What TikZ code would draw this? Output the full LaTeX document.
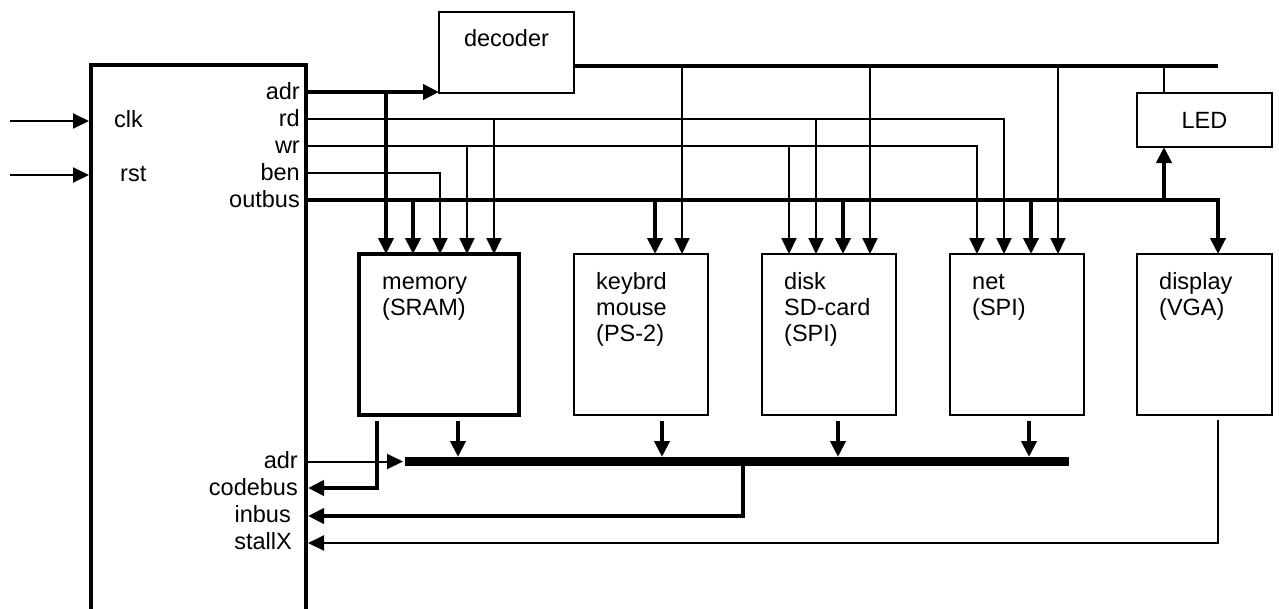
\documentclass[tikz,border=0pt]{standalone}
\usepackage{fontspec}
\setmainfont{Liberation Sans}
\usetikzlibrary{arrows.meta,calc}
\begin{document}
\begin{tikzpicture}[x=1pt,y=-1pt,
  every node/.style={font=\fontsize{23.5}{26}\selectfont,inner sep=0pt},
  thinw/.style={line width=2pt},
  thickw/.style={line width=4pt},
  barw/.style={line width=8.5pt},
  arr/.style={-{Triangle[length=16pt,width=15pt]}},
  unit/.style={draw,line width=2pt,outer sep=0pt,anchor=north west,minimum height=161pt},
  port/.style={anchor=base east},
  inside/.style={anchor=north west,align=left},
]
\useasboundingbox (0,0) rectangle (1279,608);

% processor block (runs off the bottom edge)
\node[draw,line width=4pt,outer sep=2pt,anchor=north west,minimum width=215pt,minimum height=620pt] (cpu) at (89,63) {};

% peripheral units
\node[draw,line width=2pt,outer sep=0pt,anchor=north west,minimum width=135pt,minimum height=81pt] (dec) at (439,12) {};
\node[anchor=base] (dectxt) at (506.5,46) {decoder};
\node[draw,line width=2pt,outer sep=0pt,anchor=north west,minimum width=135pt,minimum height=54pt] (led) at (1137,93) {LED};
\node[unit,line width=4pt,minimum width=160pt] (mem) at (359,254) {};
\node[unit,minimum width=134pt] (kbd) at (574,254) {};
\node[unit,minimum width=134pt] (disk) at (762,254) {};
\node[unit,minimum width=134pt] (net) at (950,254) {};
\node[unit,minimum width=135pt] (disp) at (1137,254) {};

\node[inside] (memtxt) at (382,271) {\rule{0pt}{18pt}memory\\(SRAM)};
\node[inside] (kbdtxt) at (596,271) {\rule{0pt}{18pt}keybrd\\mouse\\(PS-2)};
\node[inside] (disktxt) at (784,271) {\rule{0pt}{18pt}disk\\SD-card\\(SPI)};
\node[inside] (nettxt) at (972,271) {\rule{0pt}{18pt}net\\(SPI)};
\node[inside] (disptxt) at (1159,271) {\rule{0pt}{18pt}display\\(VGA)};

% tap points along the top edge of each unit, 27pt apart
\foreach \b in {mem,kbd,disk,net,disp,led}{
  \foreach \k in {1,...,5}{
    \coordinate (\b-t\k) at ($(\b.north west)+(27*\k,0)$);
  }
}

% port names of the processor
\node[anchor=base west] (lclk) at (114,127) {clk};
\node[anchor=base west] (lrst) at (120,181) {rst};
\node[port] (ladr) at (300,99.5) {adr};
\node[port] (lrd) at (300,126.5) {rd};
\node[port] (lwr) at (300,153.5) {wr};
\node[port] (lben) at (300,180.5) {ben};
\node[port] (lout) at (300,207.5) {outbus};
\node[port] (ladrb) at (298,468.5) {adr};
\node[port] (lcode) at (298,495) {codebus};
\node[port] (linb) at (291,522.5) {inbus};
\node[port] (lstall) at (292,549.5) {stallX};

% inputs
\coordinate (clkin) at (10,121);
\coordinate (rstin) at (10,175);
\draw[thinw,arr] (clkin) -- (clkin -| cpu.west);
\draw[thinw,arr] (rstin) -- (rstin -| cpu.west);

% output signals
\coordinate (adrS) at (306,92);
\coordinate (rdS) at (306,119);
\coordinate (wrS) at (306,146);
\coordinate (benS) at (306,173);
\coordinate (outS) at (306,200);
\coordinate (selS) at (574,66);

% address to decoder and memory
\draw[thickw,arr] (adrS) -- (adrS -| dec.west);
\draw[thickw,arr] (adrS -| mem-t1) -- (mem-t1);

% read strobe
\draw[thinw,arr] (rdS) -| (net-t2);
\draw[thinw,arr] (rdS -| mem-t5) -- (mem-t5);
\draw[thinw,arr] (rdS -| disk-t2) -- (disk-t2);

% write strobe
\draw[thinw,arr] (wrS) -| (net-t1);
\draw[thinw,arr] (wrS -| mem-t4) -- (mem-t4);
\draw[thinw,arr] (wrS -| disk-t1) -- (disk-t1);

% byte enable
\draw[thinw,arr] (benS) -| (mem-t3);

% output bus
\draw[thickw,arr] (outS) -| (disp-t3);
\draw[thickw,arr] (outS -| mem-t2) -- (mem-t2);
\draw[thickw,arr] (outS -| kbd-t3) -- (kbd-t3);
\draw[thickw,arr] (outS -| disk-t3) -- (disk-t3);
\draw[thickw,arr] (outS -| net-t3) -- (net-t3);
\draw[thickw,arr] (outS -| led-t1) -- (led.south -| led-t1);

% decoder selects
\draw[thickw] (selS) -- (selS -| disp-t3);
\draw[thinw,arr] (selS -| kbd-t4) -- (kbd-t4);
\draw[thinw,arr] (selS -| disk-t4) -- (disk-t4);
\draw[thinw,arr] (selS -| net-t4) -- (net-t4);
\draw[thinw] (selS -| led-t1) -- (led-t1);

% input bus
\coordinate (barL) at (405,461.5);
\coordinate (barR) at (1069,461.5);
\coordinate (barTop) at (0,457);
\draw[barw] (barL) -- (barR);
\coordinate (adrB) at (306,461.5);
\draw[thinw,arr] (adrB) -- ([xshift=-2pt]barL);

\coordinate (memOut) at (458,421);
\coordinate (kbdOut) at (662,421);
\coordinate (diskOut) at (838,421);
\coordinate (netOut) at (1029,421);
\foreach \o in {memOut,kbdOut,diskOut,netOut}{
  \draw[thickw,arr] (\o) -- (\o |- barTop);
}

% returns into the processor
\coordinate (yCode) at (0,488);
\coordinate (yIn) at (0,516);
\coordinate (yStall) at (0,543);
\coordinate (codeS) at (377,421);
\coordinate (inbJ) at (743,461.5);
\coordinate (stallS) at (1218,420);
\draw[thickw,arr] (codeS) |- (cpu.east |- yCode);
\draw[thickw,arr] (inbJ) |- (cpu.east |- yIn);
\draw[thinw,arr] (stallS) |- (cpu.east |- yStall);
\end{tikzpicture}
\end{document}
